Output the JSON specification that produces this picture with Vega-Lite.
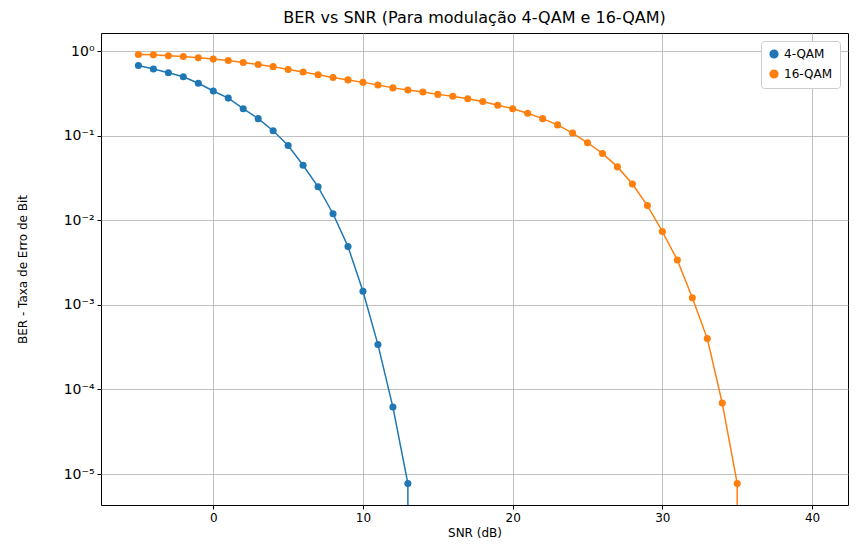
{
  "$schema": "https://vega.github.io/schema/vega-lite/v6.json",
  "width": 747,
  "height": 472,
  "autosize": {"type": "none"},
  "padding": {"left": 101, "top": 33, "right": 9, "bottom": 42},
  "background": "white",
  "title": {"text": "BER vs SNR (Para modulação 4-QAM e 16-QAM)", "font": "DejaVu Sans", "fontSize": 16, "fontWeight": "normal", "offset": 7},
  "data": {
    "values": [
      {"snr": -5, "ber": 0.68, "mod": "4-QAM"}, {"snr": -4, "ber": 0.62, "mod": "4-QAM"},
      {"snr": -3, "ber": 0.56, "mod": "4-QAM"}, {"snr": -2, "ber": 0.50, "mod": "4-QAM"},
      {"snr": -1, "ber": 0.42, "mod": "4-QAM"}, {"snr": 0, "ber": 0.34, "mod": "4-QAM"},
      {"snr": 1, "ber": 0.28, "mod": "4-QAM"}, {"snr": 2, "ber": 0.21, "mod": "4-QAM"},
      {"snr": 3, "ber": 0.16, "mod": "4-QAM"}, {"snr": 4, "ber": 0.115, "mod": "4-QAM"},
      {"snr": 5, "ber": 0.077, "mod": "4-QAM"}, {"snr": 6, "ber": 0.045, "mod": "4-QAM"},
      {"snr": 7, "ber": 0.025, "mod": "4-QAM"}, {"snr": 8, "ber": 0.012, "mod": "4-QAM"},
      {"snr": 9, "ber": 0.0049, "mod": "4-QAM"}, {"snr": 10, "ber": 0.00145, "mod": "4-QAM"},
      {"snr": 11, "ber": 0.00034, "mod": "4-QAM"}, {"snr": 12, "ber": 0.000062, "mod": "4-QAM"},
      {"snr": 13, "ber": 0.0000077, "mod": "4-QAM"}, {"snr": 14, "ber": 1e-300, "mod": "4-QAM"},
      {"snr": -5, "ber": 0.92, "mod": "16-QAM"}, {"snr": -4, "ber": 0.91, "mod": "16-QAM"},
      {"snr": -3, "ber": 0.89, "mod": "16-QAM"}, {"snr": -2, "ber": 0.87, "mod": "16-QAM"},
      {"snr": -1, "ber": 0.84, "mod": "16-QAM"}, {"snr": 0, "ber": 0.81, "mod": "16-QAM"},
      {"snr": 1, "ber": 0.78, "mod": "16-QAM"}, {"snr": 2, "ber": 0.74, "mod": "16-QAM"},
      {"snr": 3, "ber": 0.70, "mod": "16-QAM"}, {"snr": 4, "ber": 0.66, "mod": "16-QAM"},
      {"snr": 5, "ber": 0.61, "mod": "16-QAM"}, {"snr": 6, "ber": 0.57, "mod": "16-QAM"},
      {"snr": 7, "ber": 0.53, "mod": "16-QAM"}, {"snr": 8, "ber": 0.49, "mod": "16-QAM"},
      {"snr": 9, "ber": 0.46, "mod": "16-QAM"}, {"snr": 10, "ber": 0.43, "mod": "16-QAM"},
      {"snr": 11, "ber": 0.40, "mod": "16-QAM"}, {"snr": 12, "ber": 0.37, "mod": "16-QAM"},
      {"snr": 13, "ber": 0.35, "mod": "16-QAM"}, {"snr": 14, "ber": 0.33, "mod": "16-QAM"},
      {"snr": 15, "ber": 0.31, "mod": "16-QAM"}, {"snr": 16, "ber": 0.295, "mod": "16-QAM"},
      {"snr": 17, "ber": 0.275, "mod": "16-QAM"}, {"snr": 18, "ber": 0.255, "mod": "16-QAM"},
      {"snr": 19, "ber": 0.23, "mod": "16-QAM"}, {"snr": 20, "ber": 0.21, "mod": "16-QAM"},
      {"snr": 21, "ber": 0.185, "mod": "16-QAM"}, {"snr": 22, "ber": 0.16, "mod": "16-QAM"},
      {"snr": 23, "ber": 0.135, "mod": "16-QAM"}, {"snr": 24, "ber": 0.108, "mod": "16-QAM"},
      {"snr": 25, "ber": 0.083, "mod": "16-QAM"}, {"snr": 26, "ber": 0.062, "mod": "16-QAM"},
      {"snr": 27, "ber": 0.043, "mod": "16-QAM"}, {"snr": 28, "ber": 0.027, "mod": "16-QAM"},
      {"snr": 29, "ber": 0.015, "mod": "16-QAM"}, {"snr": 30, "ber": 0.0074, "mod": "16-QAM"},
      {"snr": 31, "ber": 0.0034, "mod": "16-QAM"}, {"snr": 32, "ber": 0.00122, "mod": "16-QAM"},
      {"snr": 33, "ber": 0.0004, "mod": "16-QAM"}, {"snr": 34, "ber": 0.000069, "mod": "16-QAM"},
      {"snr": 35, "ber": 0.0000077, "mod": "16-QAM"}, {"snr": 36, "ber": 1e-300, "mod": "16-QAM"}
    ]
  },
  "encoding": {
    "x": {
      "field": "snr", "type": "quantitative",
      "scale": {"domain": [-7.5, 42.4], "nice": false, "zero": false},
      "axis": {"title": "SNR (dB)", "values": [0, 10, 20, 30, 40], "grid": true, "titlePadding": 4}
    },
    "y": {
      "field": "ber", "type": "quantitative",
      "scale": {"type": "log", "domain": [0.0000043, 1.65], "nice": false},
      "axis": {
        "title": "BER - Taxa de Erro de Bit",
        "values": [1, 0.1, 0.01, 0.001, 0.0001, 0.00001],
        "grid": true,
        "labelFontSize": 14,
        "titlePadding": 34,
        "labelExpr": "'10' + ['⁰','⁻¹','⁻²','⁻³','⁻⁴','⁻⁵'][round(-log(datum.value)/LN10)]"
      }
    },
    "color": {
      "field": "mod", "type": "nominal",
      "scale": {"domain": ["4-QAM", "16-QAM"], "range": ["#1f77b4", "#ff7f0e"]},
      "legend": {
        "title": null, "orient": "top-right", "offset": 8,
        "strokeColor": "#cccccc", "fillColor": "white", "padding": 7, "cornerRadius": 3,
        "symbolType": "circle", "symbolSize": 60, "symbolOpacity": 1,
        "labelFontSize": 12, "labelFont": "DejaVu Sans", "rowPadding": 6
      }
    }
  },
  "layer": [
    {"mark": {"type": "line", "clip": true, "strokeWidth": 1.5}},
    {"mark": {"type": "point", "filled": true, "opacity": 1, "size": 50, "clip": true}}
  ],
  "config": {
    "font": "DejaVu Sans",
    "view": {"stroke": "black", "strokeWidth": 1},
    "axis": {
      "labelFont": "DejaVu Sans", "labelFontSize": 12, "labelColor": "black",
      "titleFont": "DejaVu Sans", "titleFontSize": 12, "titleFontWeight": "normal", "titleColor": "black",
      "gridColor": "#b0b0b0", "gridWidth": 0.8, "gridOpacity": 1,
      "domain": false, "tickColor": "black", "tickSize": 4, "labelPadding": 3
    }
  }
}
